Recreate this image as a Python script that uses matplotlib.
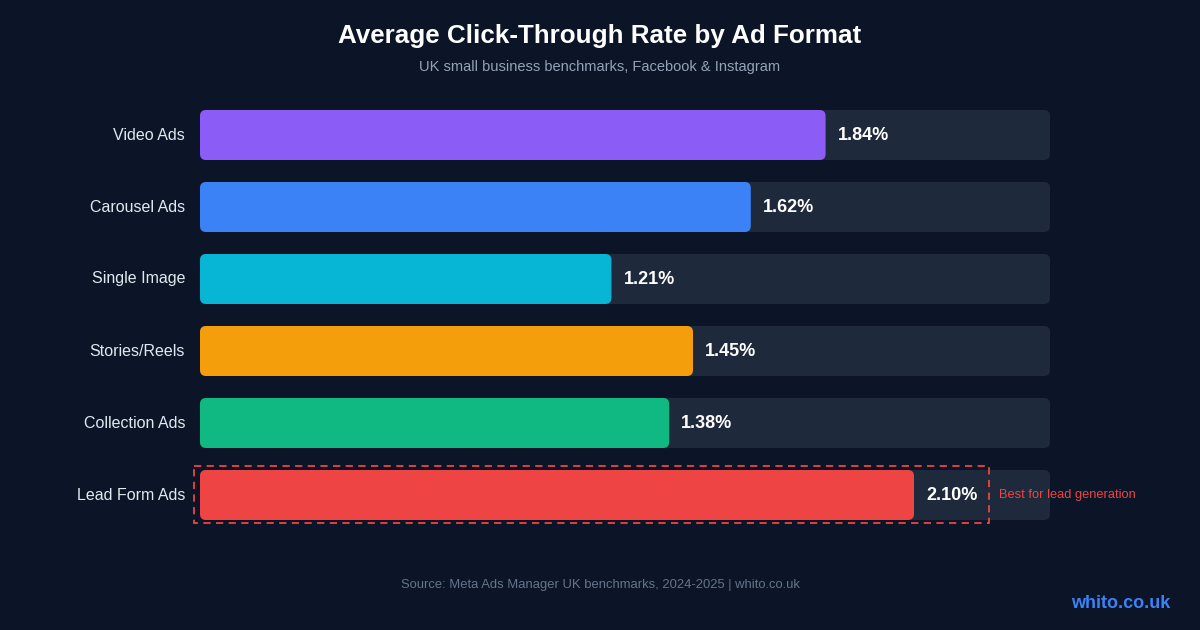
import matplotlib
matplotlib.use("Agg")
import matplotlib.pyplot as plt
from matplotlib.patches import FancyBboxPatch, Rectangle

categories = ["Video Ads", "Carousel Ads", "Single Image", "Stories/Reels", "Collection Ads", "Lead Form Ads"]
values = [1.84, 1.62, 1.21, 1.45, 1.38, 2.10]
colors = ["#8b5cf6", "#3b82f6", "#06b6d4", "#f59e0b", "#10b981", "#ef4444"]
highlight_index = 5
highlight_note = "Best for lead generation"
x_max = 2.5

BG = "#0b1527"
TRACK = "#1e293b"
FONT = ["Liberation Sans", "DejaVu Sans"]
plt.rcParams["font.family"] = FONT

W, H = 1200, 630
fig = plt.figure(figsize=(W / 100, H / 100), dpi=100, facecolor=BG)

# axes in pixel geometry
ax_left, ax_right = 200, 1050
row_h = 72
top_px = 135 - row_h / 2
bot_px = top_px + row_h * len(categories)
ax = fig.add_axes([ax_left / W, 1 - bot_px / H, (ax_right - ax_left) / W, (bot_px - top_px) / H])
ax.set_facecolor(BG)
ax.set_xlim(0, x_max)
ax.set_ylim(len(categories) - 0.5, -0.5)
ax.axis("off")

px_x = (ax_right - ax_left) / x_max  # pixels per x unit
px_y = row_h                          # pixels per y unit
bar_h = 50 / px_y
rad = 6
aspect = px_x / px_y

def rbox(x0, y0, w, h, color, z):
    p = FancyBboxPatch((x0, y0), w, h,
                       boxstyle=f"round,pad=0,rounding_size={rad / px_x}",
                       mutation_aspect=aspect, facecolor=color, edgecolor="none",
                       zorder=z, clip_on=False)
    ax.add_patch(p)

for i, (cat, v, c) in enumerate(zip(categories, values, colors)):
    rbox(0, i - bar_h / 2, x_max, bar_h, TRACK, 1)
    rbox(0, i - bar_h / 2, v, bar_h, c, 2)
    ax.text(v + 12 / px_x, i, f"{v:.2f}%", color="white", fontsize=13,
            fontweight="bold", va="center", ha="left", zorder=3)
    ax.text(-15 / px_x, i, cat, color="#e2e8f0", fontsize=11.5,
            va="center", ha="right", zorder=3)

# highlight box
hv = values[highlight_index]
x0 = -6 / px_x
x1 = hv + 75 / px_x
y0 = highlight_index - 29 / px_y
y1 = highlight_index + 28 / px_y
rect = Rectangle((x0, y0), x1 - x0, y1 - y0, fill=False, edgecolor="#ef4444",
                 linewidth=1.3, linestyle=(0, (4, 3)), zorder=4, clip_on=False)
ax.add_patch(rect)
ax.text(x1 + 10 / px_x, highlight_index, highlight_note, color="#ef4444",
        fontsize=9.3, va="center", ha="left", zorder=4)

fig.text(0.5, 1 - 36 / H, "Average Click-Through Rate by Ad Format", color="white",
         fontsize=18.7, fontweight="bold", ha="center", va="center")
fig.text(0.5, 1 - 67 / H, "UK small business benchmarks, Facebook & Instagram",
         color="#94a3b8", fontsize=10.5, ha="center", va="center")
fig.text(0.5, 1 - 585 / H, "Source: Meta Ads Manager UK benchmarks, 2024-2025 | whito.co.uk",
         color="#64748b", fontsize=9.4, ha="center", va="center")
fig.text(1170 / W, 1 - 604 / H, "whito.co.uk", color="#3b82f6", fontsize=13,
         fontweight="bold", ha="right", va="center")

fig.savefig("out.png", dpi=100, facecolor=BG)
